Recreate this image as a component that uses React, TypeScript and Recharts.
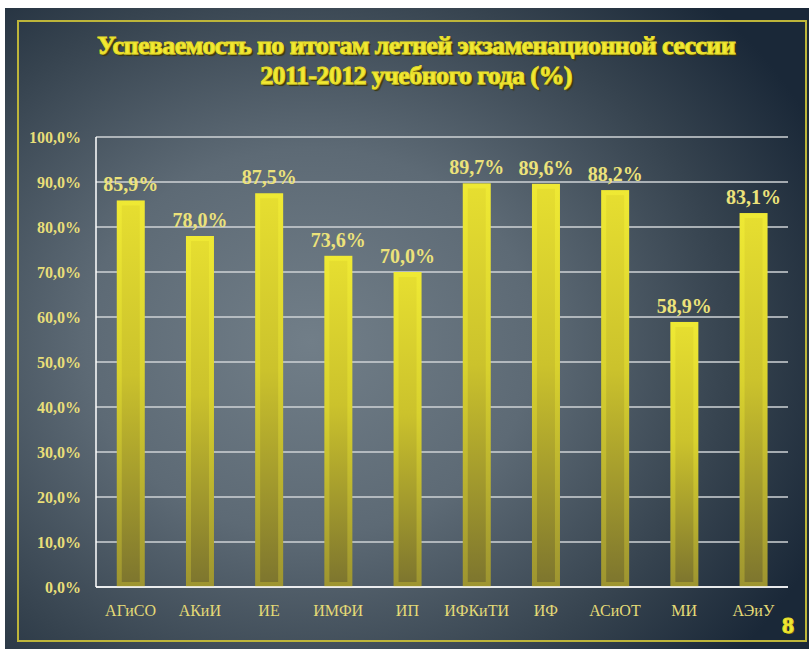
import React from "react";
import { BarChart, Bar, XAxis, YAxis, CartesianGrid, LabelList } from "recharts";

const categories = ["АГиСО", "АКиИ", "ИЕ", "ИМФИ", "ИП", "ИФКиТИ", "ИФ", "АСиОТ", "МИ", "АЭиУ"];
const values = [85.9, 78.0, 87.5, 73.6, 70.0, 89.7, 89.6, 88.2, 58.9, 83.1];
const yTicks = [0, 10, 20, 30, 40, 50, 60, 70, 80, 90, 100];
const titleLines = ["Успеваемость по итогам летней экзаменационной сессии", "2011-2012 учебного года (%)"];
const slideNumber = "8";

const data = categories.map((name, i) => ({ name, value: values[i] }));

const fmt = (v: number) => v.toFixed(1).replace(".", ",") + "%";

const FONT = "'Liberation Serif', 'Times New Roman', serif";

function YellowBar(props: any) {
  const x = Number(props.x);
  const y = Number(props.y);
  const width = Number(props.width);
  const height = Number(props.height);
  const idx = props.index ?? 0;
  if (!(height > 0)) return null;
  const inset = 5;
  const oid = `barOuter${idx}`;
  const iid = `barInner${idx}`;
  return (
    <g>
      <defs>
        <linearGradient id={oid} x1="0" y1="0" x2="0" y2="1">
          <stop offset="0%" stopColor="#efe934" />
          <stop offset="45%" stopColor="#d9d22e" />
          <stop offset="100%" stopColor="#9d9430" />
        </linearGradient>
        <linearGradient id={iid} x1="0" y1="0" x2="0" y2="1">
          <stop offset="0%" stopColor="#e6de30" />
          <stop offset="45%" stopColor="#cbc22c" />
          <stop offset="100%" stopColor="#7e762e" />
        </linearGradient>
      </defs>
      <rect x={x} y={y} width={width} height={height} fill={`url(#${oid})`} />
      <rect
        x={x + inset}
        y={y + inset}
        width={Math.max(0, width - inset * 2)}
        height={Math.max(0, height - inset * 2)}
        fill={`url(#${iid})`}
      />
    </g>
  );
}

export default function App() {
  return (
    <div style={{ position: "absolute", left: 0, top: 0, width: 809, height: 649, background: "#fff" }}>
      <div
        style={{
          position: "absolute",
          left: 5,
          top: 8,
          width: 804,
          height: 641,
          background:
            "radial-gradient(ellipse 70% 75% at 38% 52%, #717e88 0%, #5d6a75 40%, #36434f 75%, #1a2838 100%)",
        }}
      />
      <div
        style={{
          position: "absolute",
          left: 17,
          top: 20,
          width: 786,
          height: 618,
          border: "2px solid #bdb53a",
        }}
      />
      <div
        style={{
          position: "absolute",
          left: 0,
          top: 31,
          width: 832,
          textAlign: "center",
          fontFamily: FONT,
          fontWeight: "bold",
          fontSize: 26,
          lineHeight: "30px",
          color: "#f2ea34",
          letterSpacing: -0.6,
          WebkitTextStroke: "1px #e6dc2a",
          textShadow: "1px 1px 0 #6a6210, 2px 2px 1px #3a3608",
        }}
      >
        {titleLines.map((t) => (
          <div key={t}>{t}</div>
        ))}
      </div>
      <div
        style={{
          position: "absolute",
          left: 782,
          top: 612,
          fontFamily: FONT,
          fontWeight: "bold",
          fontSize: 24,
          color: "#f2ea34",
          WebkitTextStroke: "1px #e6dc2a",
          textShadow: "1px 1px 0 #6a6210",
        }}
      >
        {slideNumber}
      </div>
      <div style={{ position: "absolute", left: 0, top: 0 }}>
        <BarChart
          width={809}
          height={649}
          data={data}
          margin={{ top: 137, right: 21, bottom: 32, left: 0 }}
          barCategoryGap="30%"
        >
          <CartesianGrid vertical={false} stroke="#cfd3d6" strokeWidth={1.5} />
          <XAxis
            dataKey="name"
            height={30}
            axisLine={{ stroke: "#ffffff", strokeWidth: 1.5 }}
            tickLine={false}
            tickMargin={12}
            tick={{ fill: "#e4da76", fontSize: 16, fontFamily: FONT }}
            interval={0}
          />
          <YAxis
            width={96}
            domain={[0, 100]}
            ticks={yTicks}
            axisLine={{ stroke: "#ffffff", strokeWidth: 1.5 }}
            tickLine={false}
            tickSize={0}
            tickMargin={15}
            tickFormatter={fmt}
            tick={{ fill: "#e8de78", fontSize: 16, fontWeight: "bold", fontFamily: FONT }}
          />
          <Bar
            dataKey="value"
            fill="#e0d830"
            shape={(p: any) => <YellowBar {...p} />}
            isAnimationActive={false}
          >
            <LabelList
              dataKey="value"
              position="top"
              offset={9}
              formatter={(v: any) => fmt(Number(v))}
              style={{ fill: "#ece27a", fontSize: 20, fontWeight: "bold", fontFamily: FONT }}
            />
          </Bar>
        </BarChart>
      </div>
    </div>
  );
}
